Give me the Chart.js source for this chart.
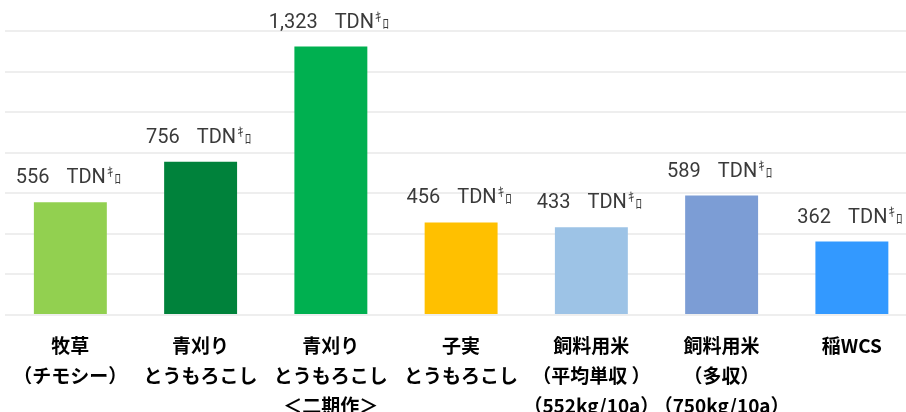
<!DOCTYPE html>
<html>
<head>
<meta charset="utf-8">
<script src="https://cdn.jsdelivr.net/npm/chart.js@4/dist/chart.umd.min.js"></script>
<style>
    html, body { margin: 0; padding: 0; background: #ffffff; overflow: hidden; }
    #wrap { position: relative; width: 920px; height: 437px; margin-left: -3px; }
</style>
</head>
<body>
<div id="wrap"><canvas id="tdn-chart"></canvas></div>
<script>
const categories = [
    ['牧草', '（チモシー）'],
    ['青刈り', 'とうもろこし'],
    ['青刈り', 'とうもろこし', '＜二期作＞'],
    ['子実', 'とうもろこし'],
    ['飼料用米', '（平均単収 ）', '（552kg/10a）'],
    ['飼料用米', '（多収）', '（750kg/10a）'],
    ['稲WCS']
];
const tdnValues = [556, 756, 1323, 456, 433, 589, 362];
const barColors = ['#92D050', '#00823B', '#00B050', '#FFC000', '#9DC3E6', '#7C9DD5', '#3399FF'];
const yMax = 1400;
const yStep = 200;
const unitText = 'TDN';
const unitSup = 'ｷ';
const unitSub = 'ﾛ';

// draws "556  TDNｷﾛ" above each bar
const valueLabels = {
    id: 'valueLabels',
    afterDatasetsDraw(chart) {
        const ctx = chart.ctx;
        const meta = chart.getDatasetMeta(0);
        ctx.save();
        ctx.fillStyle = '#3a3a3a';
        ctx.textBaseline = 'alphabetic';
        ctx.textAlign = 'left';
        meta.data.forEach((bar, i) => {
            const num = tdnValues[i].toLocaleString('en-US');
            ctx.font = '20px Roboto';
            const wNum = ctx.measureText(num).width;
            const wUnit = ctx.measureText(unitText).width;
            ctx.font = '13px "Noto Sans CJK JP"';
            const wSup = ctx.measureText(unitSup).width + 2;
            const wSub = ctx.measureText(unitSub).width;
            const gap = 17;
            const total = wNum + gap + wUnit + wSup + wSub;
            let x = bar.x - 2 - total / 2;
            const base = bar.y - 19;
            ctx.font = '20px Roboto';
            ctx.fillText(num, x, base);
            x += wNum + gap;
            ctx.fillText(unitText, x, base);
            x += wUnit;
            ctx.font = '13px "Noto Sans CJK JP"';
            ctx.fillText(unitSup, x + 1, base - 7);
            x += wSup;
            ctx.fillText(unitSub, x, base);
        });
        ctx.restore();
    }
};

const ctx = document.getElementById('tdn-chart').getContext('2d');

new Chart(ctx, {
    type: 'bar',
    data: {
        labels: categories,
        datasets: [{
            data: tdnValues,
            backgroundColor: barColors,
            borderWidth: 0,
            barPercentage: 0.56,
            categoryPercentage: 1.0
        }]
    },
    options: {
        responsive: true,
        maintainAspectRatio: false,
        animation: false,
        layout: {
            padding: { top: 31, left: 5, right: 0, bottom: 0 }
        },
        scales: {
            x: {
                grid: { display: false, drawTicks: false },
                border: { display: false },
                ticks: {
                    color: '#000000',
                    padding: 16,
                    maxRotation: 0,
                    autoSkip: false,
                    font: {
                        family: '"Noto Sans CJK JP"',
                        size: 19,
                        weight: 'bold',
                        lineHeight: '30px'
                    }
                }
            },
            y: {
                min: 0,
                max: yMax,
                grid: {
                    color: '#EEEEEE',
                    lineWidth: 2,
                    drawTicks: false
                },
                border: { display: false },
                ticks: {
                    display: false,
                    stepSize: yStep
                }
            }
        },
        plugins: {
            legend: { display: false },
            tooltip: { enabled: false }
        }
    },
    plugins: [valueLabels]
});
</script>
</body>
</html>
